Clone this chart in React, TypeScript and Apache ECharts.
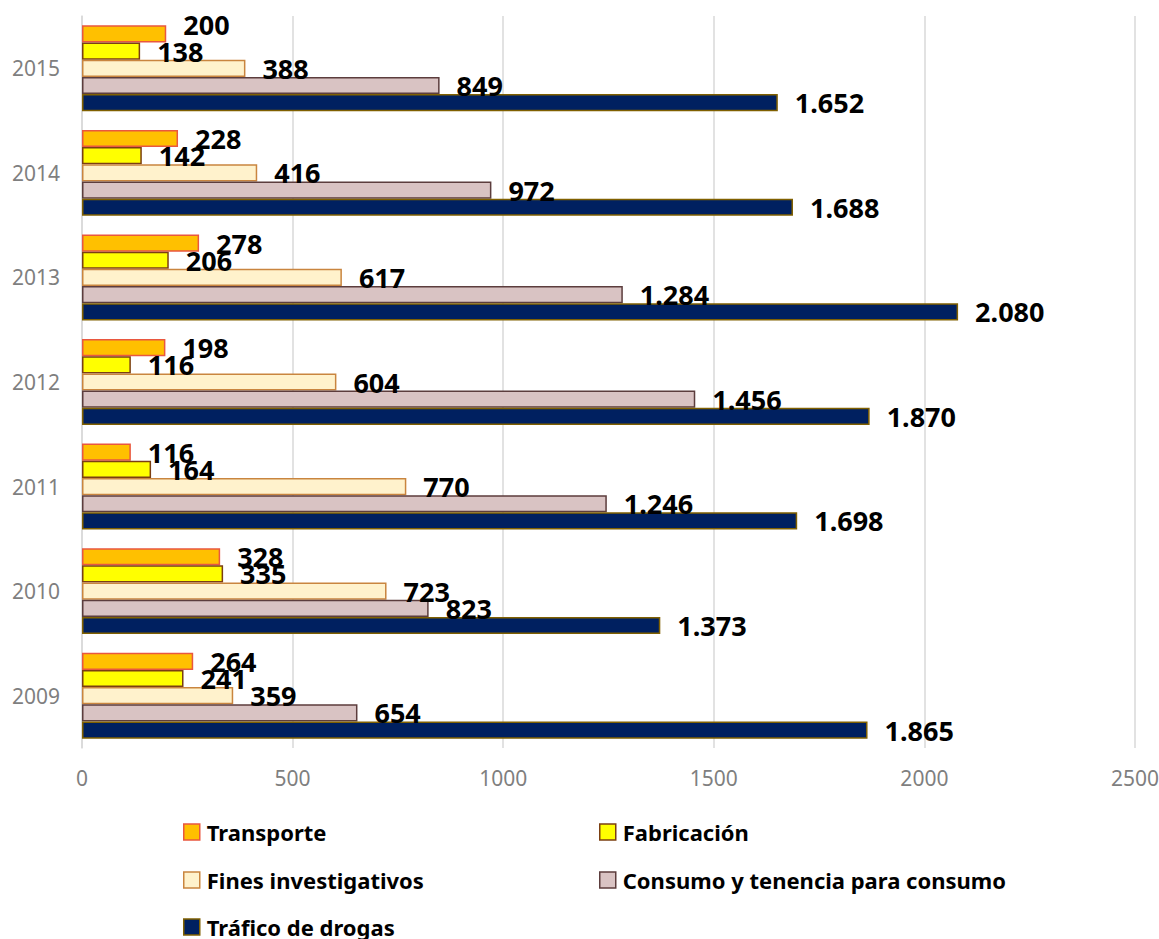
import React, { useEffect, useRef } from "react";
import * as echarts from "echarts";

const years = ["2009", "2010", "2011", "2012", "2013", "2014", "2015"];
const transporte = [264, 328, 116, 198, 278, 228, 200];
const fabricacion = [241, 335, 164, 116, 206, 142, 138];
const fines = [359, 723, 770, 604, 617, 416, 388];
const consumo = [654, 823, 1246, 1456, 1284, 972, 849];
const trafico = [1865, 1373, 1698, 1870, 2080, 1688, 1652];
const xMin = 0;
const xMax = 2500;
const xStep = 500;

const seriesNames = [
  "Transporte",
  "Fabricación",
  "Fines investigativos",
  "Consumo y tenencia para consumo",
  "Tráfico de drogas",
];
const seriesValues = [transporte, fabricacion, fines, consumo, trafico];
const fills = ["#FFC000", "#FFFF00", "#FFF2CC", "#D9C3C3", "#002060"];
const borders = ["#E9573F", "#7B3F12", "#C9853F", "#5C3D3D", "#806000"];

const FONT = "'Noto Sans', 'DejaVu Sans', sans-serif";

function fmt(v: number): string {
  if (v >= 1000) {
    return `${Math.floor(v / 1000)}.${String(v % 1000).padStart(3, "0")}`;
  }
  return String(v);
}

export default function App() {
  const ref = useRef<HTMLDivElement>(null);
  useEffect(() => {
    if (!ref.current) return;
    const chart = echarts.init(ref.current, undefined, { renderer: "svg" });

    const series = seriesNames.map((name, si) => ({
      name,
      type: "bar",
      barGap: "0%",
      barCategoryGap: "17.8%",
      itemStyle: { color: fills[si], borderColor: borders[si], borderWidth: 1.5 },
      label: {
        show: true,
        position: "right",
        distance: 17,
        color: "#000",
        fontWeight: "bold",
        fontSize: 27,
        fontFamily: FONT,
        formatter: (p: any) => fmt(p.value),
      },
      data: seriesValues[si].map((v, i) =>
        si === 0 && i === years.length - 1
          ? { value: v, label: { offset: [0, -9] } }
          : v
      ),
    }));

    const legendPos = [
      { left: 183, top: 821 },
      { left: 599, top: 821 },
      { left: 183, top: 869 },
      { left: 599, top: 869 },
      { left: 183, top: 916 },
    ];

    const legends = seriesNames.map((name, i) => ({
      data: [name],
      left: legendPos[i].left,
      top: legendPos[i].top,
      padding: 0,
      icon: "rect",
      itemWidth: 16,
      itemHeight: 16,
      itemStyle: { borderWidth: 1.5 },
      textStyle: {
        color: "#000",
        fontWeight: "bold",
        fontSize: 22,
        lineHeight: 22,
        fontFamily: FONT,
        padding: [0, 0, 0, 2],
      },
      selectedMode: false,
    }));

    chart.setOption({
      animation: false,
      backgroundColor: "#fff",
      grid: {
        left: 82,
        right: 24,
        top: 16,
        bottom: 191,
        containLabel: false,
        outerBoundsMode: "none",
      },
      legend: legends,
      xAxis: {
        type: "value",
        min: xMin,
        max: xMax,
        interval: xStep,
        axisLine: { show: false },
        axisTick: { show: false },
        splitLine: { show: true, lineStyle: { color: "#D9D9D9", width: 1.5 } },
        axisLabel: {
          color: "#7F7F7F",
          fontSize: 21,
          fontFamily: FONT,
          margin: 19,
          formatter: (v: number) => String(v),
        },
      },
      yAxis: {
        type: "category",
        data: years,
        axisLine: { show: true, lineStyle: { color: "#D9D9D9", width: 1.5 } },
        axisTick: { show: false },
        axisLabel: { color: "#7F7F7F", fontSize: 21, fontFamily: FONT, margin: 22 },
      },
      series,
    });
    return () => chart.dispose();
  }, []);
  return (
    <div
      ref={ref}
      style={{ position: "absolute", left: 0, top: 0, width: 1159, height: 939 }}
    />
  );
}
